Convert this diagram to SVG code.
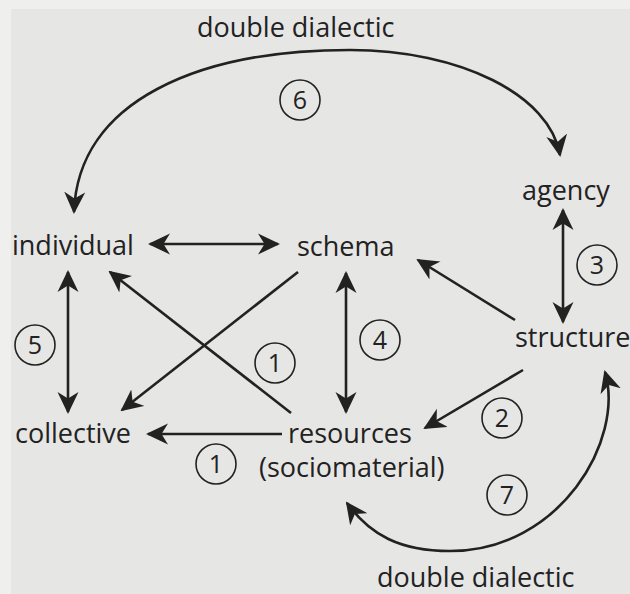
<svg xmlns="http://www.w3.org/2000/svg" width="630" height="594" viewBox="0 0 630 594">
<defs>
<style>
.t{font-family:"Open Sans","Noto Sans",sans-serif;font-size:27px;fill:#222}
.n{font-family:"Open Sans","Noto Sans",sans-serif;font-size:25px;fill:#222;text-anchor:middle}
.c{fill:none;stroke:#222;stroke-width:1.6}
.l{fill:none;stroke:#222;stroke-width:2.6}
.a{marker-end:url(#ah)}
.b{marker-start:url(#ah);marker-end:url(#ah)}
</style>
<marker id="ah" markerUnits="userSpaceOnUse" viewBox="0 0 22 22" markerWidth="22" markerHeight="22" refX="20" refY="11" orient="auto-start-reverse">
<path d="M0,0.5 L22,11 L0,21.5 L6.5,11 Z" fill="#222"/>
</marker>
</defs>
<rect width="630" height="594" fill="#efefee"/>
<rect x="11" y="9" width="619" height="585" fill="#e6e6e4"/>

<g id="connectors">
<path class="l b" d="M150,244 L278,244"/>
<path class="l b" d="M68,272 L68,412"/>
<path class="l b" d="M346,273 L346,412"/>
<path class="l b" d="M563,210 L563,322"/>
<path class="l a" d="M515,320 L418,260"/>
<path class="l a" d="M291,413 L110,272"/>
<path class="l a" d="M298,272 L122,410"/>
<path class="l a" d="M282,434 L148,434"/>
<path class="l a" d="M523,370 L425,428"/>
<path class="l b" d="M74,212 C78,100 200,50 350,50 C460,50 550,95 560,155"/>
<path class="l b" d="M605,372 C625,440 560,551 450,551 C400,551 370,535 347,503"/>
</g>

<g id="labels">
<g id="label-6"><circle class="c" cx="300" cy="100" r="20"/><text class="n" x="300" y="109">6</text></g>
<g id="label-3"><circle class="c" cx="597" cy="265" r="20"/><text class="n" x="597" y="274">3</text></g>
<g id="label-5"><circle class="c" cx="35" cy="345" r="20"/><text class="n" x="35" y="354">5</text></g>
<g id="label-4"><circle class="c" cx="380" cy="340" r="20"/><text class="n" x="380" y="349">4</text></g>
<g id="label-1a"><circle class="c" cx="275" cy="363" r="20"/><text class="n" x="275" y="372">1</text></g>
<g id="label-1b"><circle class="c" cx="216" cy="464" r="20"/><text class="n" x="216" y="473">1</text></g>
<g id="label-2"><circle class="c" cx="502" cy="418" r="20"/><text class="n" x="502" y="427">2</text></g>
<g id="label-7"><circle class="c" cx="507" cy="495" r="20"/><text class="n" x="507" y="504">7</text></g>
<text class="t" x="197" y="37">double dialectic</text>
<text class="t" x="377" y="587">double dialectic</text>
</g>

<g id="individual"><text class="t" x="12" y="255">individual</text></g>
<g id="schema"><text class="t" x="297" y="256">schema</text></g>
<g id="agency"><text class="t" x="522" y="200">agency</text></g>
<g id="structure"><text class="t" x="515" y="347">structure</text></g>
<g id="collective"><text class="t" x="15" y="443">collective</text></g>
<g id="resources"><text class="t" x="288" y="443">resources</text><text class="t" x="259" y="477">(sociomaterial)</text></g>
</svg>
